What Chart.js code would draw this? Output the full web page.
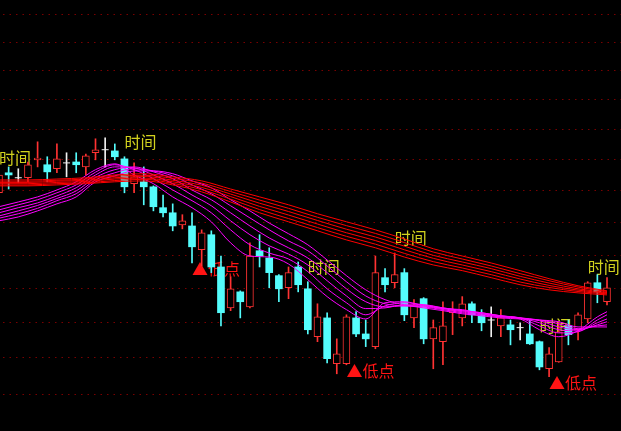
<!DOCTYPE html>
<html>
<head>
<meta charset="utf-8">
<script src="https://cdn.jsdelivr.net/npm/chart.js@4.4.1/dist/chart.umd.min.js"></script>
<style>
  html, body { margin: 0; padding: 0; background: #000; }
  #wrap { width: 621px; height: 431px; }
</style>
</head>
<body>
<div id="wrap"><canvas id="kChart" width="621" height="431"></canvas></div>
<script>
// Daily candles (price)
const opens  = [4.193, 4.257, 4.241, 4.241, 4.299, 4.283, 4.270, 4.289, 4.292, 4.276,
                4.322, 4.332, 4.328, 4.302, 4.222, 4.228, 4.212, 4.146, 4.130, 4.092,
                4.089, 4.016, 4.062, 3.964, 3.843, 3.890, 3.846, 4.013, 3.991, 3.938,
                3.902, 3.964, 3.899, 3.760, 3.814, 3.684, 3.684, 3.814, 3.768, 3.732,
                3.932, 3.917, 3.947, 3.814, 3.870, 3.754, 3.746, 3.829, 3.814, 3.855,
                3.823, 3.808, 3.791, 3.794, 3.786, 3.768, 3.746, 3.670, 3.689, 3.791,
                3.780, 3.811, 3.917, 3.861];
const highs  = [4.257, 4.276, 4.270, 4.292, 4.358, 4.309, 4.351, 4.322, 4.322, 4.318,
                4.368, 4.371, 4.351, 4.309, 4.289, 4.276, 4.215, 4.186, 4.158, 4.124,
                4.130, 4.077, 4.074, 3.997, 3.935, 3.893, 4.037, 4.062, 4.022, 3.941,
                3.964, 3.979, 3.920, 3.855, 3.829, 3.754, 3.823, 3.832, 3.808, 3.997,
                3.959, 4.006, 3.959, 3.867, 3.873, 3.808, 3.861, 3.861, 3.876, 3.861,
                3.838, 3.846, 3.838, 3.808, 3.800, 3.808, 3.748, 3.729, 3.803, 3.808,
                3.829, 3.920, 3.941, 3.932];
const lows   = [4.183, 4.205, 4.225, 4.228, 4.276, 4.228, 4.257, 4.244, 4.257, 4.250,
                4.299, 4.276, 4.299, 4.193, 4.193, 4.155, 4.136, 4.117, 4.074, 4.080,
                3.976, 3.967, 3.947, 3.791, 3.835, 3.814, 3.843, 3.964, 3.902, 3.861,
                3.870, 3.890, 3.768, 3.746, 3.686, 3.656, 3.681, 3.760, 3.732, 3.726,
                3.890, 3.902, 3.806, 3.786, 3.740, 3.670, 3.681, 3.766, 3.791, 3.800,
                3.777, 3.760, 3.760, 3.737, 3.751, 3.738, 3.667, 3.648, 3.688, 3.737,
                3.751, 3.800, 3.858, 3.852];
const closes = [4.250, 4.250, 4.241, 4.283, 4.305, 4.260, 4.302, 4.289, 4.283, 4.312,
                4.332, 4.332, 4.309, 4.212, 4.244, 4.212, 4.149, 4.130, 4.089, 4.105,
                4.025, 4.068, 3.964, 3.829, 3.899, 3.861, 3.997, 3.997, 3.947, 3.899,
                3.947, 3.911, 3.780, 3.817, 3.698, 3.712, 3.817, 3.768, 3.754, 3.947,
                3.911, 3.941, 3.823, 3.852, 3.754, 3.786, 3.791, 3.835, 3.855, 3.823,
                3.800, 3.808, 3.814, 3.780, 3.786, 3.740, 3.675, 3.712, 3.774, 3.766,
                3.823, 3.917, 3.890, 3.902];

// Long moving averages (red bundle), sampled every 3 candles
const longIdx = [0, 3, 6, 9, 12, 15, 18, 21, 24, 27, 30, 33, 36, 39, 42, 45, 48, 51, 54, 57, 60, 63];
const longMa1 = [4.234, 4.234, 4.237, 4.241, 4.250, 4.254, 4.244, 4.231, 4.205, 4.180, 4.155, 4.127, 4.102, 4.077, 4.049, 4.019, 3.997, 3.976, 3.953, 3.929, 3.908, 3.893];
const longMa2 = [4.230, 4.230, 4.233, 4.237, 4.246, 4.249, 4.239, 4.224, 4.197, 4.170, 4.144, 4.116, 4.090, 4.066, 4.038, 4.009, 3.988, 3.967, 3.944, 3.923, 3.904, 3.891];
const longMa3 = [4.226, 4.226, 4.230, 4.233, 4.241, 4.245, 4.233, 4.217, 4.189, 4.160, 4.134, 4.106, 4.079, 4.055, 4.027, 3.999, 3.979, 3.959, 3.936, 3.916, 3.899, 3.888];
const longMa4 = [4.222, 4.222, 4.226, 4.229, 4.237, 4.240, 4.228, 4.210, 4.181, 4.150, 4.123, 4.095, 4.068, 4.044, 4.016, 3.990, 3.970, 3.950, 3.928, 3.909, 3.895, 3.886];
const longMa5 = [4.218, 4.218, 4.222, 4.225, 4.232, 4.236, 4.223, 4.203, 4.173, 4.140, 4.112, 4.084, 4.057, 4.033, 4.005, 3.980, 3.961, 3.941, 3.919, 3.903, 3.891, 3.884];
const longMa6 = [4.215, 4.215, 4.218, 4.222, 4.228, 4.231, 4.218, 4.196, 4.164, 4.130, 4.102, 4.074, 4.046, 4.022, 3.994, 3.970, 3.953, 3.932, 3.911, 3.896, 3.887, 3.881];

// Short moving averages (magenta bundle), sampled every 2 candles
const shortIdx = [0, 2, 4, 6, 8, 10, 12, 14, 16, 18, 20, 22, 24, 26, 28, 30, 32, 34, 36, 38,
                  40, 42, 44, 46, 48, 50, 52, 54, 56, 58, 60, 62, 63];
const shortMa1 = [4.149, 4.164, 4.180, 4.202, 4.228, 4.267, 4.286, 4.250, 4.222, 4.180, 4.146, 4.102, 4.037, 3.997, 3.994, 3.973, 3.926, 3.876, 3.838, 3.811, 3.858, 3.861, 3.849, 3.841, 3.838, 3.826, 3.817, 3.811, 3.780, 3.760, 3.777, 3.817, 3.832];
const shortMa2 = [4.139, 4.155, 4.171, 4.193, 4.218, 4.259, 4.283, 4.267, 4.238, 4.202, 4.168, 4.130, 4.077, 4.031, 4.006, 3.988, 3.950, 3.899, 3.858, 3.823, 3.849, 3.858, 3.852, 3.843, 3.835, 3.829, 3.820, 3.814, 3.791, 3.771, 3.774, 3.808, 3.823];
const shortMa3 = [4.130, 4.146, 4.161, 4.183, 4.209, 4.250, 4.276, 4.273, 4.250, 4.222, 4.186, 4.152, 4.105, 4.062, 4.028, 4.003, 3.970, 3.923, 3.878, 3.841, 3.843, 3.852, 3.852, 3.843, 3.835, 3.829, 3.820, 3.814, 3.800, 3.780, 3.777, 3.800, 3.811];
const shortMa4 = [4.120, 4.136, 4.153, 4.175, 4.199, 4.242, 4.267, 4.276, 4.260, 4.238, 4.202, 4.171, 4.130, 4.089, 4.052, 4.022, 3.991, 3.947, 3.899, 3.861, 3.846, 3.849, 3.849, 3.841, 3.832, 3.826, 3.820, 3.814, 3.806, 3.788, 3.780, 3.794, 3.803];
const shortMa5 = [4.113, 4.127, 4.144, 4.168, 4.190, 4.234, 4.257, 4.270, 4.263, 4.247, 4.218, 4.190, 4.152, 4.114, 4.077, 4.043, 4.013, 3.967, 3.920, 3.878, 3.855, 3.849, 3.846, 3.838, 3.829, 3.823, 3.817, 3.814, 3.808, 3.797, 3.783, 3.791, 3.794];
const shortMa6 = [4.105, 4.117, 4.136, 4.158, 4.180, 4.228, 4.247, 4.263, 4.263, 4.254, 4.231, 4.209, 4.171, 4.136, 4.098, 4.065, 4.031, 3.985, 3.938, 3.896, 3.867, 3.852, 3.843, 3.835, 3.826, 3.820, 3.814, 3.811, 3.808, 3.803, 3.788, 3.788, 3.788];

// Marker candles
const timeMarks = [0, 13, 32, 41, 56, 61];
const lowMarks = [20, 36, 57];

// Price grid (log axis)
const priceTicks = [3.6, 3.7, 3.8, 3.9, 4.0, 4.1, 4.2, 4.3, 4.4, 4.5, 4.6, 4.7, 4.8];

const UP = '#ff3232';
const DOWN = '#54fcfc';
const FLAT = '#f0f0f0';

function candleColor(i) {
    if (closes[i] > opens[i]) return UP;
    if (closes[i] < opens[i]) return DOWN;
    return FLAT;
}

const idx = opens.map((_, i) => i);
const wickData = idx.map(i => ({ x: i, y: [lows[i], highs[i]] }));
const upData = idx.filter(i => closes[i] > opens[i]).map(i => ({ x: i, y: [opens[i], closes[i]] }));
const downData = idx.filter(i => closes[i] < opens[i]).map(i => ({ x: i, y: [closes[i], opens[i]] }));
const dojiData = idx.filter(i => closes[i] === opens[i]).map(i => ({ x: i, y: opens[i] }));

function lineSet(xs, ys, color, order) {
    return {
        type: 'line',
        data: xs.map((x, k) => ({ x: x, y: ys[k] })),
        borderColor: color,
        borderWidth: 1,
        pointRadius: 0,
        fill: false,
        cubicInterpolationMode: 'monotone',
        order: order
    };
}

// Text markers, drawn under the candles and lines
const markPlugin = {
    id: 'marks',
    beforeDatasetsDraw(chart) {
        const ctx = chart.ctx;
        const xs = chart.scales.x, ys = chart.scales.y;
        ctx.save();
        ctx.font = '16px "Noto Sans CJK SC"';
        ctx.textAlign = 'left';
        ctx.textBaseline = 'middle';
        ctx.fillStyle = '#d2d21e';
        timeMarks.forEach(i => {
            ctx.fillText('时间', xs.getPixelForValue(i), ys.getPixelForValue(highs[i]) - 15);
        });
        ctx.fillStyle = '#ff1414';
        lowMarks.forEach(i => {
            ctx.fillText('▲低点', xs.getPixelForValue(i), ys.getPixelForValue(lows[i]) + 6);
        });
        ctx.restore();
    }
};

const ctx = document.getElementById('kChart').getContext('2d');
new Chart(ctx, {
    type: 'bar',
    data: {
        datasets: [
            lineSet(longIdx, longMa1, '#ff0000', 0),
            lineSet(longIdx, longMa2, '#ff0000', 0),
            lineSet(longIdx, longMa3, '#ff0000', 0),
            lineSet(longIdx, longMa4, '#ff0000', 0),
            lineSet(longIdx, longMa5, '#ff0000', 0),
            lineSet(longIdx, longMa6, '#ff0000', 0),
            lineSet(shortIdx, shortMa1, '#ff00ff', 1),
            lineSet(shortIdx, shortMa2, '#ff00ff', 1),
            lineSet(shortIdx, shortMa3, '#ff00ff', 1),
            lineSet(shortIdx, shortMa4, '#ff00ff', 1),
            lineSet(shortIdx, shortMa5, '#ff00ff', 1),
            lineSet(shortIdx, shortMa6, '#ff00ff', 1),
            {
                type: 'scatter',
                data: dojiData,
                pointStyle: 'line',
                pointRadius: 3.5,
                borderColor: FLAT,
                borderWidth: 1,
                order: 2
            },
            {
                data: upData,
                backgroundColor: '#000000',
                borderColor: UP,
                borderWidth: 1,
                borderSkipped: false,
                barThickness: 7,
                grouped: false,
                order: 2
            },
            {
                data: downData,
                backgroundColor: DOWN,
                borderWidth: 0,
                barThickness: 7,
                grouped: false,
                order: 2
            },
            {
                data: wickData,
                backgroundColor: idx.map(candleColor),
                borderWidth: 0,
                barThickness: 1,
                grouped: false,
                order: 3
            }
        ]
    },
    options: {
        responsive: false,
        animation: false,
        events: [],
        layout: { padding: 0, autoPadding: false },
        plugins: {
            legend: { display: false },
            tooltip: { enabled: false }
        },
        scales: {
            x: {
                type: 'linear',
                min: 0.104,
                max: 64.45,
                offset: false,
                display: false
            },
            y: {
                type: 'logarithmic',
                min: 3.501,
                max: 4.852,
                afterBuildTicks: scale => {
                    scale.ticks = priceTicks.map(v => ({ value: v }));
                },
                ticks: { display: false },
                grid: { color: '#7a0000', lineWidth: 1, drawTicks: false },
                border: { display: false, dash: [1.5, 5], dashOffset: -3 }
            }
        }
    },
    plugins: [markPlugin]
});
</script>
</body>
</html>
